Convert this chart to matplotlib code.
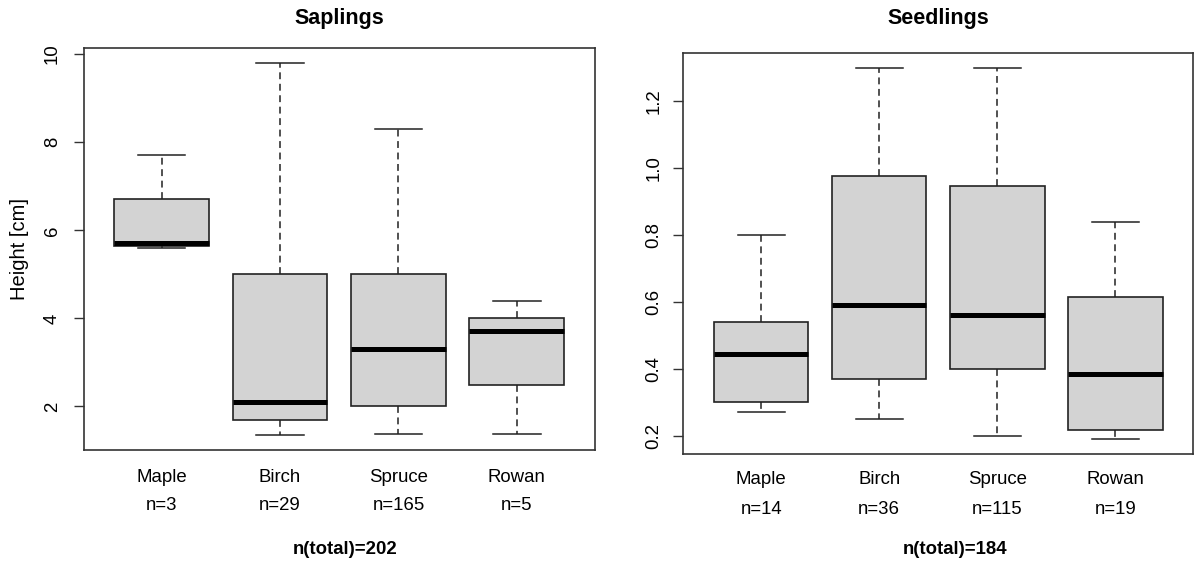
import matplotlib
matplotlib.use('Agg')
import matplotlib.pyplot as plt
import matplotlib.transforms as mtrans

plt.rcParams.update({
    'font.family': ['Liberation Sans', 'DejaVu Sans'],
    'font.size': 13.4,
})

species = ['Maple', 'Birch', 'Spruce', 'Rowan']

# Saplings: whisker low, Q1, median, Q3, whisker high, count
sap_lo  = [5.60, 1.35, 1.38, 1.38]
sap_q1  = [5.65, 1.70, 2.00, 2.48]
sap_med = [5.72, 2.10, 3.30, 3.72]
sap_q3  = [6.70, 5.00, 5.00, 4.00]
sap_hi  = [7.70, 9.80, 8.30, 4.40]
sap_n   = [3, 29, 165, 5]

# Seedlings
seed_lo  = [0.27, 0.25, 0.20, 0.19]
seed_q1  = [0.300, 0.370, 0.400, 0.218]
seed_med = [0.445, 0.592, 0.560, 0.385]
seed_q3  = [0.540, 0.975, 0.945, 0.615]
seed_hi  = [0.80, 1.30, 1.30, 0.84]
seed_n   = [14, 36, 115, 19]

sap_yticks = [2, 4, 6, 8, 10]
seed_yticks = [0.2, 0.4, 0.6, 0.8, 1.0, 1.2]

fig = plt.figure(figsize=(11.94, 5.61), dpi=100)
W, H = 1194, 561
ax1 = fig.add_axes([83.5 / W, (H - 450) / H, 511.5 / W, 402 / H])
ax2 = fig.add_axes([683.3 / W, (H - 454) / H, 510 / W, 401.3 / H])


def stats(lo, q1, med, q3, hi):
    return [dict(whislo=a, q1=b, med=c, q3=d, whishi=e, fliers=[])
            for a, b, c, d, e in zip(lo, q1, med, q3, hi)]


def draw(ax, st, counts, title, yticks, tick_pad, title_pad, name_dy, n_dy, tot_dy, tot_x):
    pos = list(range(1, len(st) + 1))
    ax.bxp(st, positions=pos, widths=0.8, capwidths=0.4, patch_artist=True,
           showfliers=False,
           boxprops=dict(facecolor='#d3d3d3', edgecolor='#222222', linewidth=1.2),
           whiskerprops=dict(color='#222222', linewidth=1.1, linestyle=(0, (4.5, 3))),
           capprops=dict(color='#222222', linewidth=1.1),
           medianprops=dict(color='black', linewidth=3.6, solid_capstyle='butt'))
    # R-style axis range: data extent padded by 4% on each side
    lows = min(s['whislo'] for s in st)
    highs = max(s['whishi'] for s in st)
    pad = 0.04 * (highs - lows)
    ax.set_ylim(lows - pad, highs + pad)
    ax.set_xlim(0.5 - 0.16, len(st) + 0.5 + 0.16)
    ax.set_xticks([])
    ax.set_yticks(yticks)
    ax.set_yticklabels([f'{t:g}' if t >= 2 else f'{t:.1f}' for t in yticks],
                       rotation=90, va='center')
    ax.tick_params(axis='y', length=7.2, width=1.0, pad=tick_pad, color='#333333')
    for sp in ax.spines.values():
        sp.set_linewidth(1.2)
        sp.set_color('#333333')
    ax.set_title(title, fontweight='bold', fontsize=15.5, pad=title_pad)

    xt = ax.get_xaxis_transform()
    tr_name = mtrans.offset_copy(xt, fig=fig, y=-name_dy, units='dots')
    tr_n = mtrans.offset_copy(xt, fig=fig, y=-n_dy, units='dots')
    for p, name, n in zip(pos, species, counts):
        ax.text(p, 0, name, transform=tr_name, ha='center', va='center')
        ax.text(p, 0, f'n={n}', transform=tr_n, ha='center', va='center')
    tr_tot = mtrans.offset_copy(ax.transAxes, fig=fig, y=-tot_dy, units='dots')
    ax.text(tot_x, 0, f'n(total)={sum(counts)}', transform=tr_tot,
            ha='center', va='center', fontweight='bold')


draw(ax1, stats(sap_lo, sap_q1, sap_med, sap_q3, sap_hi), sap_n, 'Saplings',
     sap_yticks, 9.0, 17.5, 27, 55, 99, 0.511)
draw(ax2, stats(seed_lo, seed_q1, seed_med, seed_q3, seed_hi), seed_n, 'Seedlings',
     seed_yticks, 8.0, 20.8, 26, 56, 95, 0.533)

ax1.set_ylabel('Height [cm]', fontsize=14.5, labelpad=11)

fig.savefig('out.png', dpi=100)
plt.close(fig)
